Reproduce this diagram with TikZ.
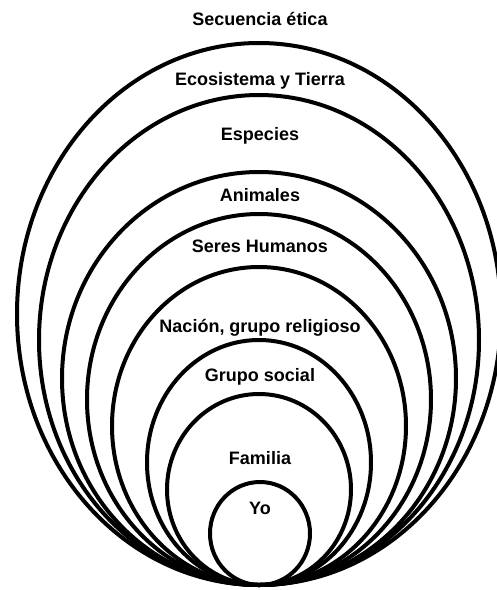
\documentclass[tikz,border=0pt]{standalone}
\usepackage{fontspec}
\setmainfont{Liberation Sans}
\begin{document}
\begin{tikzpicture}[x=1pt,y=-1pt,
  ring/.style={draw=black,line width=4pt},
  lbl/.style={anchor=base,inner sep=0pt,font=\fontsize{18}{20}\selectfont\bfseries}]
\clip (0,0) rectangle (497,590);
\fill[white] (0,0) rectangle (497,590);
% nested ellipses, all tangent at the bottom (y = 585)
\draw[ring] (259,314)   ellipse [x radius=242pt, y radius=271pt];
\draw[ring] (259,340)   ellipse [x radius=220pt, y radius=245pt];
\draw[ring] (259,378.5) ellipse [x radius=197pt, y radius=206.5pt];
\draw[ring] (259,399.5) ellipse [x radius=172pt, y radius=185.5pt];
\draw[ring] (259,426)   ellipse [x radius=147pt, y radius=159pt];
\draw[ring] (259,462.5) ellipse [x radius=112pt, y radius=122.5pt];
\draw[ring] (259,489.5) ellipse [x radius=92pt,  y radius=95.5pt];
\draw[ring] (260,533.5) ellipse [x radius=50pt,  y radius=51.5pt];
% labels
\node[lbl] (secuencia) at (260,25.5)  {Secuencia ética};
\node[lbl] (ecosistema) at (260,85)   {Ecosistema y Tierra};
\node[lbl] (especies) at (260,140)    {Especies};
\node[lbl] (animales) at (260,201)    {Animales};
\node[lbl] (seres) at (260,252.5)     {Seres Humanos};
\node[lbl] (nacion) at (260,332.5)    {Nación, grupo religioso};
\node[lbl] (gruposocial) at (260,381.5) {Grupo social};
\node[lbl] (familia) at (260,464)     {Familia};
\node[lbl] (yo) at (260,514)          {Yo};
\end{tikzpicture}
\end{document}
